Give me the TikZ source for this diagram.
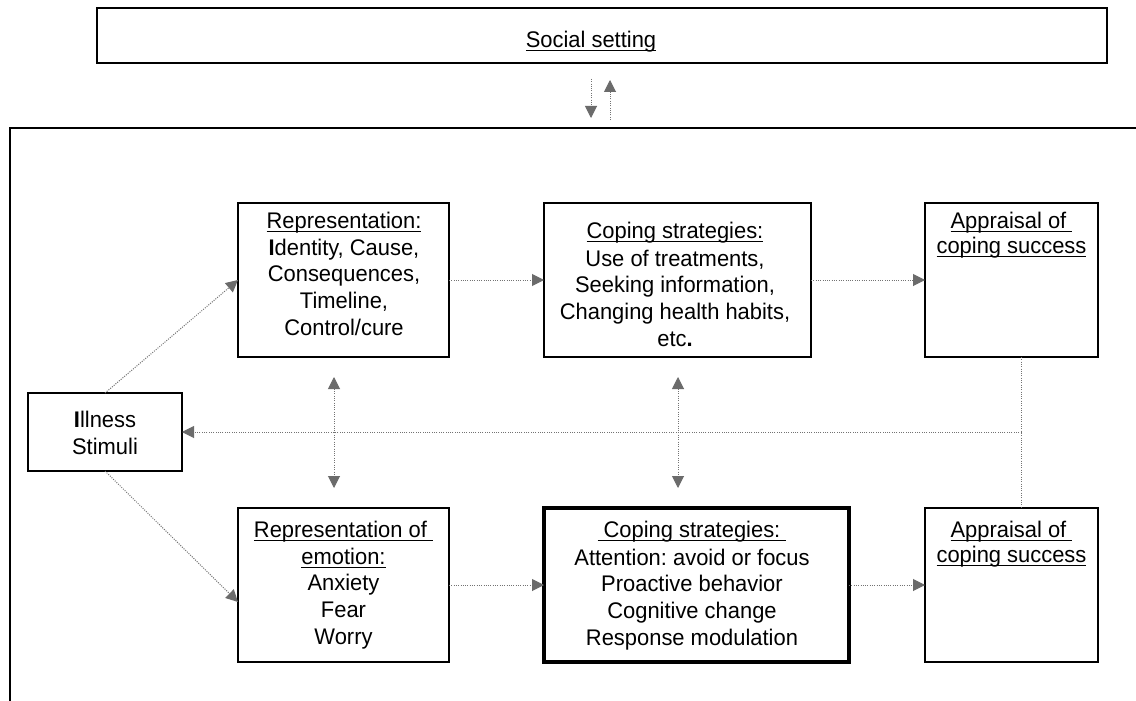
\documentclass[tikz,border=0pt]{standalone}
\usepackage{fontspec}
\setmainfont{Liberation Sans}[FakeStretch=0.97]
\usetikzlibrary{arrows.meta}
\frenchspacing
\newcommand\myul[1]{\setbox0\hbox{#1}\rlap{\rule[-3.8pt]{\wd0}{0.9pt}}\box0}
\begin{document}
\begin{tikzpicture}[x=1pt,y=-1pt,
  box/.style={draw=black,line width=1.8pt,inner sep=0pt,outer sep=0pt,fill=none},
  boldbox/.style={box,line width=3.8pt},
  txt/.style={inner sep=0pt,outer sep=0pt,align=center,anchor=north,
    font=\fontsize{22.6}{26.8}\selectfont},
  dotln/.style={draw=black!55,line width=1pt,dash pattern=on 1pt off 1.3pt},
  arr/.style={dotln,-{Triangle[length=12pt,width=12pt,fill=black!58,color=black!58]}},
  darr/.style={dotln,{Triangle[length=12pt,width=12pt,fill=black!58,color=black!58]}-{Triangle[length=12pt,width=12pt,fill=black!58,color=black!58]}}
]
\useasboundingbox (0,0) rectangle (1136,701);
\fill[white] (0,0) rectangle (1136,701);
% outer frame
\draw[line width=1.8pt] (10,701) -- (10,128) -- (1136,128);

% social setting
\node[box,minimum width=1010pt,minimum height=55pt] (soc) at (602,35.5) {};
\node[txt] (soct) at (591,31) {\myul{Social setting}};

% boxes
\node[box,minimum width=211pt,minimum height=154pt] (rep) at (343.5,280) {};
\node[box,minimum width=267pt,minimum height=154pt] (cop1) at (677.5,280) {};
\node[box,minimum width=173pt,minimum height=154pt] (app1) at (1011.5,280) {};
\node[box,minimum width=154pt,minimum height=78pt] (ill) at (105,432) {};
\node[box,minimum width=211pt,minimum height=154pt] (emo) at (343.5,585) {};
\node[boldbox,minimum width=305pt,minimum height=154pt] (cop2) at (696.5,585) {};
\node[box,minimum width=173pt,minimum height=154pt] (app2) at (1011.5,585) {};

% texts
\node[txt] (rept) at (344,212) {\myul{Representation:}\\\textbf{I}dentity, Cause,\\Consequences,\\Timeline,\\Control/cure};
\node[txt] (cop1t) at (675,222) {\myul{Coping strategies:}\\[1pt]Use of treatments,\\Seeking information,\\Changing health habits,\\etc\textbf{.}};
\node[txt] (app1t) at (1011.5,212) {\myul{Appraisal of\ }\\[-2pt]\myul{coping success}};
\node[txt] (illt) at (105,411) {\textbf{I}llness\\Stimuli};
\node[txt] (emot) at (343.5,521) {\myul{Representation of\ }\\\myul{emotion:}\\Anxiety\\Fear\\Worry};
\node[txt] (cop2t) at (692,521) {\myul{\ Coping strategies:\ }\\[1pt]Attention: avoid or focus\\Proactive behavior\\Cognitive change\\Response modulation};
\node[txt] (app2t) at (1011.5,521) {\myul{Appraisal of\ }\\[-2pt]\myul{coping success}};

% social arrows
\coordinate (sd1) at (591,79);
\coordinate (sd2) at (591,118);
\coordinate (su1) at (610,120);
\coordinate (su2) at (610,80);
\draw[arr] (sd1) -- (sd2);
\draw[arr] (su1) -- (su2);

% connectors
\draw[arr] (ill.north) -- (rep.west);
\draw[arr] (ill.south) -- ([yshift=-17pt]emo.west);
\draw[arr] (rep.east) -- (cop1.west);
\draw[arr] (cop1.east) -- (app1.west);
\draw[arr] (emo.east) -- (cop2.west);
\draw[arr] (cop2.east) -- (app2.west);
\draw[darr] ([xshift=-9.5pt,yshift=-20pt]rep.south) -- ([xshift=-9.5pt,yshift=20pt]emo.north);
\draw[darr] ([xshift=0.5pt,yshift=-20pt]cop1.south) -- ([xshift=0.5pt,yshift=20pt]cop1.south |- cop2.north);
\coordinate (fb) at (1021.5,432);
\draw[dotln] (app1.south -| fb) -- (app2.north -| fb);
\draw[arr] (fb) -- (ill.east);
\end{tikzpicture}
\end{document}
